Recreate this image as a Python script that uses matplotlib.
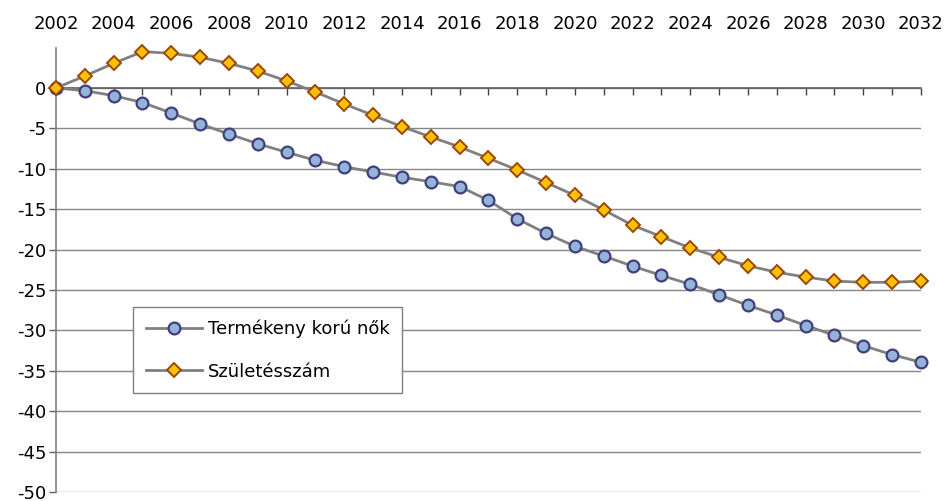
import matplotlib
matplotlib.use("Agg")
import matplotlib.pyplot as plt
from matplotlib.ticker import FuncFormatter, MultipleLocator

years = list(range(2002, 2033))
nok = [0.0, -0.33, -0.95, -1.8, -3.1, -4.45, -5.7, -6.9, -7.96, -8.95,
       -9.74, -10.4, -11.05, -11.6, -12.2, -13.9, -16.2, -18.0, -19.6, -20.8,
       -22.05, -23.2, -24.3, -25.6, -26.9, -28.1, -29.4, -30.6, -31.9, -33.0, -33.95]
szul = [0.0, 1.49, 3.05, 4.5, 4.29, 3.8, 3.05, 2.1, 0.87, -0.5,
        -1.98, -3.38, -4.79, -6.06, -7.3, -8.7, -10.15, -11.7, -13.3, -15.1,
        -17.0, -18.4, -19.8, -20.95, -22.0, -22.8, -23.4, -23.9, -24.05, -24.05, -23.9]
labels = ["Termékeny korú nők", "Születésszám"]
yticks = list(range(-50, 1, 5))

plt.rcParams['font.family'] = ['DejaVu Sans']
plt.rcParams['axes.unicode_minus'] = False
fig = plt.figure(figsize=(9.45, 5.01), dpi=100)
ax = fig.add_axes([56/945, 9/501, (921-56)/945, (492-48)/501])

ax.plot(years, nok, color='#808080', lw=2, marker='o', ms=8.5,
        mfc='#95B3D7', mec='#3F3F7F', mew=1.6, label=labels[0], zorder=3, clip_on=False)
ax.plot(years, szul, color='#808080', lw=2, marker='D', ms=7.5,
        mfc='#FFC000', mec='#984807', mew=1.4, label=labels[1], zorder=3, clip_on=False)

ax.set_xlim(2002, 2032)
ax.set_ylim(-50, 4.95)
ax.set_yticks(yticks)
ax.yaxis.grid(True, color='#888888', lw=1)
ax.set_axisbelow(True)

ax.spines['top'].set_visible(False)
ax.spines['right'].set_visible(False)
ax.spines['left'].set_color('#808080')
ax.spines['left'].set_linewidth(1.2)
ax.spines['bottom'].set_position(('data', 0))
ax.spines['bottom'].set_color('#606060')
ax.spines['bottom'].set_linewidth(1.2)

ax.xaxis.set_major_locator(MultipleLocator(1))
ax.xaxis.set_major_formatter(FuncFormatter(lambda v, p: f"{int(round(v))}" if int(round(v)) % 2 == 0 else ""))
ax.tick_params(axis='x', which='major', bottom=True, top=False, labelbottom=False,
               labeltop=True, direction='out', length=5, width=1, color='#404040',
               labelsize=13, pad=6)

ax.tick_params(axis='y', direction='out', length=5, width=1, color='#606060',
               labelsize=13, pad=2)

leg = ax.legend(loc='upper left', bbox_to_anchor=(133/945, 1-307/501),
                bbox_transform=fig.transFigure, fontsize=13, frameon=True,
                fancybox=False, framealpha=1, edgecolor='#808080',
                handlelength=3.1, handletextpad=0.35, labelspacing=1.35,
                borderpad=0.7, borderaxespad=0)
leg.get_frame().set_linewidth(1)

fig.savefig("out.png", dpi=100)
